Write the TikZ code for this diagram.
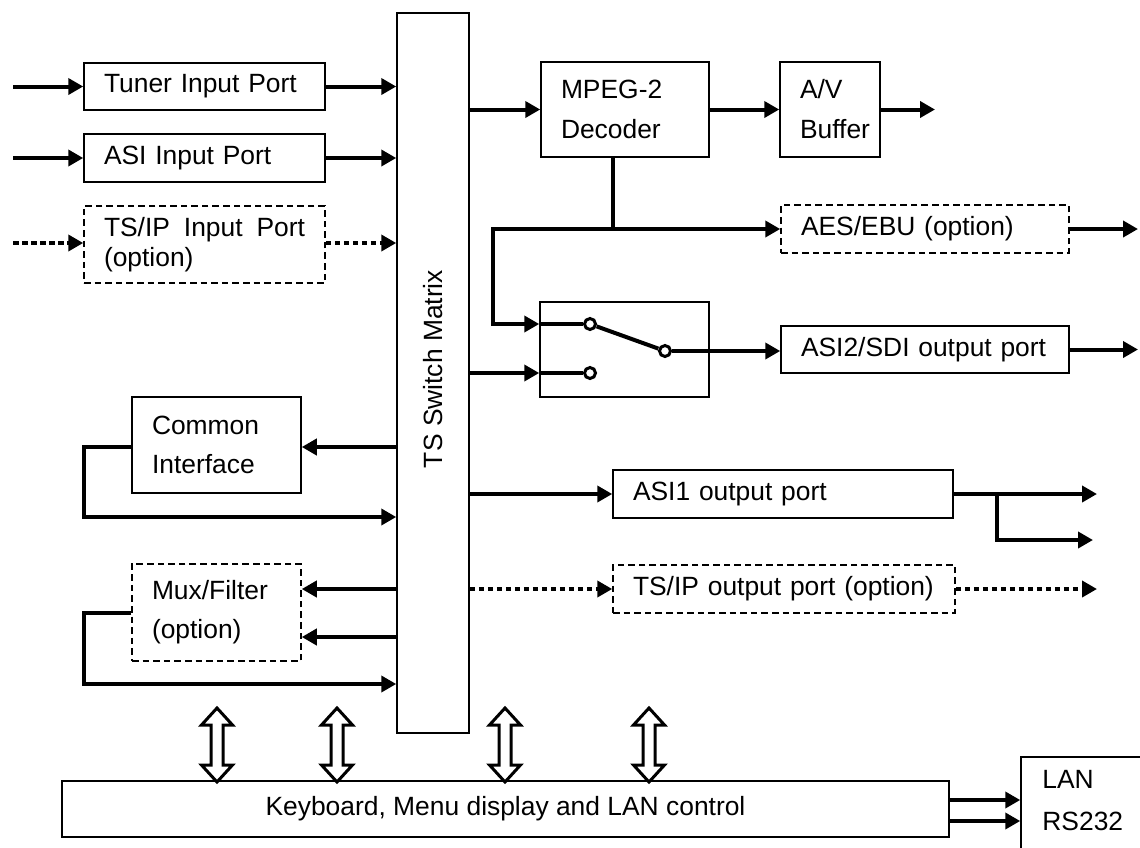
\documentclass[tikz,border=0pt]{standalone}
\usepackage{fontspec}
\setmainfont{Liberation Sans}
\usetikzlibrary{arrows.meta, calc}
\hfuzz=10pt

\begin{document}
\begin{tikzpicture}[x=0.5pt, y=-0.5pt,
  every node/.style={font=\fontsize{13.2}{20}\selectfont},
  blk/.style={draw, line width=0.75pt, inner xsep=10pt, inner ysep=0pt, align=left},
  optblk/.style={blk, dash pattern=on 3.3pt off 2pt},
  link/.style={line width=2pt, -{Triangle[length=7.5pt,width=8pt]}},
  optlink/.style={link, dash pattern=on 2.75pt off 1.75pt},
  wire/.style={line width=2pt},
  contact/.style={circle, draw, line width=1.5pt, fill=white, inner sep=0pt, minimum size=5.5pt}]
  \useasboundingbox (0,0) rectangle (1140,847);
  \clip (0,0) rectangle (1140,847);

  % input ports
  \node[blk, minimum width=120.5pt, minimum height=23.5pt, text width=100.5pt] (tuner) at (204.5,86.5) {Tuner Input Port};
  \node[blk, minimum width=120.5pt, minimum height=24pt, text width=100.5pt] (asiin) at (204.5,158) {ASI Input Port};
  \node[optblk, minimum width=120.5pt, minimum height=38.5pt, text width=100.5pt, font=\fontsize{13.2}{15}\selectfont] (tsipin) at (204.5,244.5) {TS/IP\hfill Input\hfill Port\\(option)};

  % switch matrix
  \node[blk, minimum width=36pt, minimum height=360pt] (tsm) at (433,373) {};
  \node[rotate=90] (tsmtxt) at (433,369) {TS Switch Matrix};

  % loop blocks
  \node[blk, minimum width=84.5pt, minimum height=48pt, text width=64.5pt, font=\fontsize{13.2}{19.5}\selectfont] (ci) at (216.5,445) {Common\\Interface};
  \node[optblk, minimum width=84.5pt, minimum height=48.5pt, text width=64.5pt, font=\fontsize{13.2}{19.5}\selectfont] (mux) at (216.5,612.5) {Mux/Filter\\(option)};

  % decoder chain
  \node[blk, minimum width=84pt, minimum height=47.5pt, text width=64pt] (dec) at (625,109.5) {MPEG-2\\Decoder};
  \node[blk, minimum width=50pt, minimum height=47.5pt, text width=30pt] (buf) at (830,109.5) {A/V\\Buffer};
  \node[optblk, minimum width=144pt, minimum height=24pt, text width=124pt] (aes) at (925,229) {AES/EBU (option)};

  % output switch
  \node[blk, minimum width=84.5pt, minimum height=47.5pt] (sw) at (624.5,349.5) {};
  \node[contact] (c1) at (590,324) {};
  \node[contact] (c2) at (590,373) {};
  \node[contact] (piv) at (665,351) {};

  % output ports
  \node[blk, minimum width=144pt, minimum height=23.5pt, text width=124pt] (asi2) at (925,349.5) {ASI2/SDI output port};
  \node[blk, minimum width=170pt, minimum height=24pt, text width=150pt] (asi1) at (783,494) {ASI1 output port};
  \node[optblk, minimum width=171pt, minimum height=24pt, text width=151pt] (tsipout) at (784,589) {TS/IP output port (option)};

  % control
  \node[blk, minimum width=443.5pt, minimum height=28pt] (kbd) at (505.5,809) {Keyboard, Menu display and LAN control};
  \node[blk, minimum width=80pt, minimum height=60pt] (lan) at (1101,817) {};
  \node[anchor=west, align=left, inner sep=0pt, font=\fontsize{13.2}{21}\selectfont] (lantxt) at (1042,801) {LAN\\RS232};

  % free ends
  \coordinate (tunersrc) at (13,86.5);
  \coordinate (asisrc) at (13,158);
  \coordinate (tsipsrc) at (13,243);
  \coordinate (bufout) at (935,109.5);
  \coordinate (tap) at (613,229);
  \coordinate (bend) at (493,229);
  \coordinate (aesout) at (1138,229);
  \coordinate (asi2out) at (1138,349.5);
  \coordinate (split) at (997,494);
  \coordinate (asi1outa) at (1097,494);
  \coordinate (asi1outb) at (1093,540);
  \coordinate (tsipoutend) at (1097,589);
  \coordinate (lanin) at ([yshift=4.5pt]kbd.east);
  \coordinate (rsin) at ([yshift=-6pt]kbd.east);

  % inputs
  \draw[link] (tunersrc) -- (tuner.west);
  \draw[link] (tuner.east) -- (tuner.east -| tsm.west);
  \draw[link] (asisrc) -- (asiin.west);
  \draw[link] (asiin.east) -- (asiin.east -| tsm.west);
  \draw[optlink] (tsipsrc) -- (tsipin.west |- tsipsrc);
  \draw[optlink] (tsipin.east |- tsipsrc) -- (tsipsrc -| tsm.west);

  % common interface and mux loops
  \draw[link] (tsm.west |- 0,447) -- (ci.east |- 0,447);
  \draw[link] (ci.west |- 0,447) -- ++(-47,0) |- (tsm.west |- 0,517);
  \draw[link] (tsm.west |- 0,589) -- (mux.east |- 0,589);
  \draw[link] (tsm.west |- 0,637) -- (mux.east |- 0,637);
  \draw[link] (mux.west) -- ++(-47,0) |- (tsm.west |- 0,684);

  % decoder paths
  \draw[link] (tsm.east |- dec.west) -- (dec.west);
  \draw[link] (dec) -- (buf);
  \draw[link] (buf.east) -- (bufout);
  \draw[wire] (dec.south -| tap) -- (tap);
  \draw[link] (tap) -- (aes.west);
  \draw[link] (aes.east) -- (aesout);
  \draw[link] (tap) -- (bend) |- (sw.west |- c1);
  \draw[wire] (sw.west |- c1) -- (c1);
  \draw[link] (tsm.east |- c2) -- (sw.west |- c2);
  \draw[wire] (sw.west |- c2) -- (c2);
  \draw[wire] (c1) -- (piv);
  \draw[link] (piv) -- (asi2.west |- piv);
  \draw[link] (asi2.east) -- (asi2out);

  % asi1 and ts/ip outputs
  \draw[link] (tsm.east |- asi1.west) -- (asi1.west);
  \draw[link] (asi1.east) -- (asi1outa);
  \draw[link] (split) |- (asi1outb);
  \draw[optlink] (tsm.east |- tsipout.west) -- (tsipout.west);
  \draw[optlink] (tsipout.east) -- (tsipoutend);

  % control links
  \draw[link] (lanin) -- (lanin -| lan.west);
  \draw[link] (rsin) -- (rsin -| lan.west);
  \foreach \x in {217,337,505,649}
    \draw[line width=1.5pt, fill=white] (\x,708) -- ++(15.5,17) -- ++(-9.5,0) -- ++(0,40) -- ++(9.5,0)
      -- (\x,782) -- ++(-15.5,-17) -- ++(9.5,0) -- ++(0,-40) -- ++(-9.5,0) -- cycle;
\end{tikzpicture}
\end{document}
